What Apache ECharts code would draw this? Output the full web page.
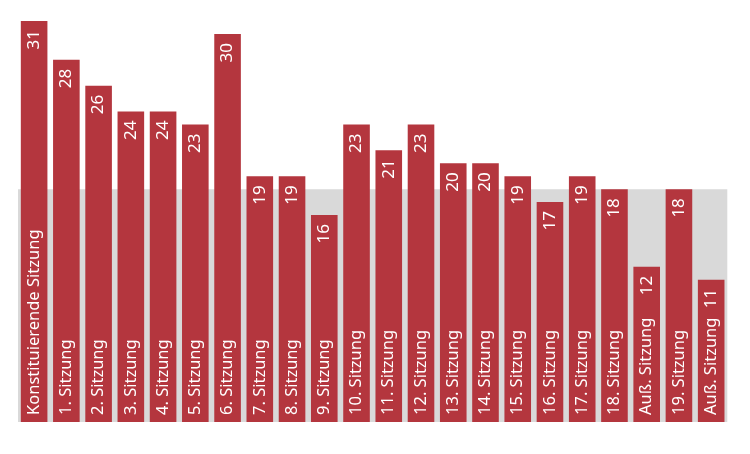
<!DOCTYPE html>
<html>
<head>
<meta charset="utf-8">
<script src="https://cdn.jsdelivr.net/npm/echarts@6/dist/echarts.min.js"></script>
<style>html,body{margin:0;padding:0;background:#fff}#c{width:750px;height:454px}</style>
</head>
<body>
<div id="c"></div>
<script>
const categories = ["Konstituierende Sitzung","1. Sitzung","2. Sitzung","3. Sitzung","4. Sitzung","5. Sitzung","6. Sitzung","7. Sitzung","8. Sitzung","9. Sitzung","10. Sitzung","11. Sitzung","12. Sitzung","13. Sitzung","14. Sitzung","15. Sitzung","16. Sitzung","17. Sitzung","18. Sitzung","Auß. Sitzung","19. Sitzung","Auß. Sitzung"];
const values = [31,28,26,24,24,23,30,19,19,16,23,21,23,20,20,19,17,19,18,12,18,11];
const bandFrom = 0;
const bandTo = 18;

const chart = echarts.init(document.getElementById('c'), null, {renderer:'canvas'});
const font = "'Noto Sans', sans-serif";
chart.setOption({
  animation: false,
  grid: {left: 18, right: 22.7, top: 21, bottom: 32},
  xAxis: {
    type: 'category',
    data: categories.map((c, i) => String(i)),
    z: 10,
    axisLine: {show: false},
    axisTick: {show: false},
    axisLabel: {
      inside: true, rotate: 90, margin: 7, interval: 0,
      color: '#fff', fontSize: 16.5, fontFamily: font,
      formatter: (v, i) => categories[i]
    }
  },
  yAxis: {type: 'value', min: 0, max: 31, show: false, splitLine: {show: false}},
  series: [
    {
      type: 'line', data: [], z: 1, silent: true,
      markArea: {silent: true, itemStyle: {color: '#d9d9d9', opacity: 1},
        data: [[{yAxis: bandFrom}, {yAxis: bandTo}]]}
    },
    {
      type: 'bar', data: values, z: 2, barCategoryGap: '17.5%',
      itemStyle: {color: '#b4363e'},
      label: {
        show: true, position: 'insideTop', rotate: 90, distance: 9,
        align: 'right', verticalAlign: 'middle',
        color: '#fff', fontSize: 17, fontFamily: font
      }
    }
  ]
});
</script>
</body>
</html>
